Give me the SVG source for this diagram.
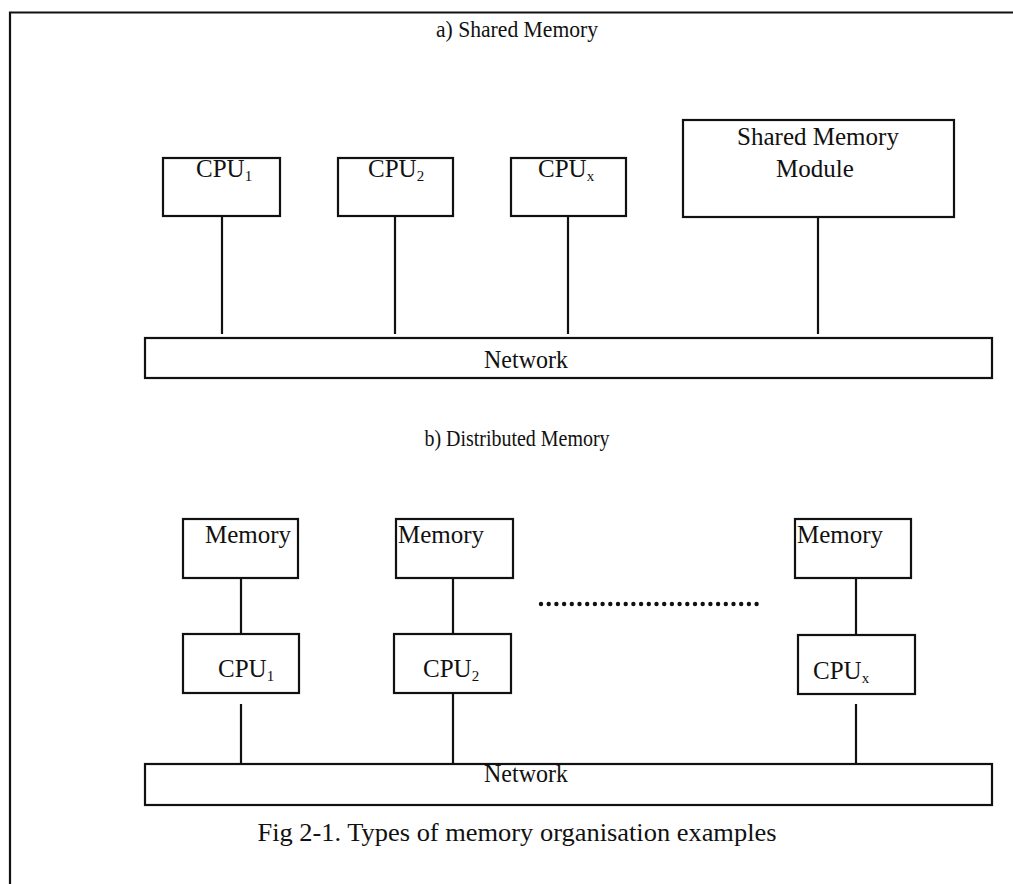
<svg xmlns="http://www.w3.org/2000/svg" width="1013" height="884" viewBox="0 0 1013 884">
<style>
  .box { fill: #fff; stroke: #111; stroke-width: 2.2; }
  .wire { stroke: #111; stroke-width: 2.2; fill: none; }
  .t { font-family: "Liberation Serif", "Times New Roman", serif; fill: #111; }
  .lbl { font-size: 25px; }
  .sub { font-size: 15px; }
  .head { font-size: 24px; }
  .cap { font-size: 26px; }
</style>
<rect width="1013" height="884" fill="#fff"/>
<g id="frame">
  <path class="wire" d="M10 884 V12.5 H1013" stroke-width="2"/>
</g>
<text class="t head" x="517" y="37" text-anchor="middle" textLength="162" lengthAdjust="spacingAndGlyphs">a) Shared Memory</text>

<g id="connectors">
  <line class="wire" x1="222" y1="216" x2="222" y2="334"/>
  <line class="wire" x1="395" y1="216" x2="395" y2="334"/>
  <line class="wire" x1="568" y1="216" x2="568" y2="334"/>
  <line class="wire" x1="818" y1="217" x2="818" y2="334"/>
  <line class="wire" x1="241" y1="578" x2="241" y2="639"/>
  <line class="wire" x1="453" y1="578" x2="453" y2="634"/>
  <line class="wire" x1="856" y1="578" x2="856" y2="639"/>
  <line class="wire" x1="241" y1="704" x2="241" y2="764"/>
  <line class="wire" x1="453" y1="693" x2="453" y2="771"/>
  <line class="wire" x1="856" y1="704" x2="856" y2="764"/>
  <line x1="541" y1="604" x2="764" y2="604" stroke="#111" stroke-width="4.4" stroke-linecap="round" stroke-dasharray="0 7.7"/>
</g>

<g id="cpu1-shared">
  <rect class="box" x="163" y="158" width="117" height="58"/>
  <text class="t lbl" x="196" y="177">CPU<tspan class="sub" dy="4">1</tspan></text>
</g>
<g id="cpu2-shared">
  <rect class="box" x="338" y="158" width="115" height="58"/>
  <text class="t lbl" x="368" y="177">CPU<tspan class="sub" dy="4">2</tspan></text>
</g>
<g id="cpux-shared">
  <rect class="box" x="511" y="158" width="115" height="58"/>
  <text class="t lbl" x="538" y="177">CPU<tspan class="sub" dy="4">x</tspan></text>
</g>
<g id="shared-memory-module">
  <rect class="box" x="683" y="120" width="271" height="97"/>
  <text class="t lbl" x="818" y="145" text-anchor="middle">Shared Memory</text>
  <text class="t lbl" x="815" y="177" text-anchor="middle">Module</text>
</g>
<g id="network-shared">
  <rect class="box" x="145" y="338" width="847" height="40"/>
  <text class="t lbl" x="526" y="368" text-anchor="middle" textLength="84" lengthAdjust="spacingAndGlyphs">Network</text>
</g>

<text class="t head" x="517" y="446" text-anchor="middle" textLength="185" lengthAdjust="spacingAndGlyphs">b) Distributed Memory</text>

<g id="memory1">
  <rect class="box" x="183" y="519" width="115" height="59"/>
  <text class="t lbl" x="205" y="543">Memory</text>
</g>
<g id="memory2">
  <rect class="box" x="396" y="519" width="117" height="59"/>
  <text class="t lbl" x="398" y="543">Memory</text>
</g>
<g id="memory3">
  <rect class="box" x="795" y="519" width="116" height="59"/>
  <text class="t lbl" x="797" y="543">Memory</text>
</g>
<g id="cpu1-dist">
  <rect class="box" x="183" y="634" width="116" height="59"/>
  <text class="t lbl" x="218" y="677">CPU<tspan class="sub" dy="4">1</tspan></text>
</g>
<g id="cpu2-dist">
  <rect class="box" x="394" y="634" width="117" height="59"/>
  <text class="t lbl" x="423" y="677">CPU<tspan class="sub" dy="4">2</tspan></text>
</g>
<g id="cpux-dist">
  <rect class="box" x="798" y="635" width="117" height="59"/>
  <text class="t lbl" x="813" y="679">CPU<tspan class="sub" dy="4">x</tspan></text>
</g>
<g id="network-dist">
  <rect class="box" x="145" y="764" width="847" height="41"/>
  <text class="t lbl" x="526" y="782" text-anchor="middle" textLength="84" lengthAdjust="spacingAndGlyphs">Network</text>
</g>

<text class="t cap" x="517" y="841" text-anchor="middle" textLength="519" lengthAdjust="spacingAndGlyphs">Fig 2-1. Types of memory organisation examples</text>
</svg>
